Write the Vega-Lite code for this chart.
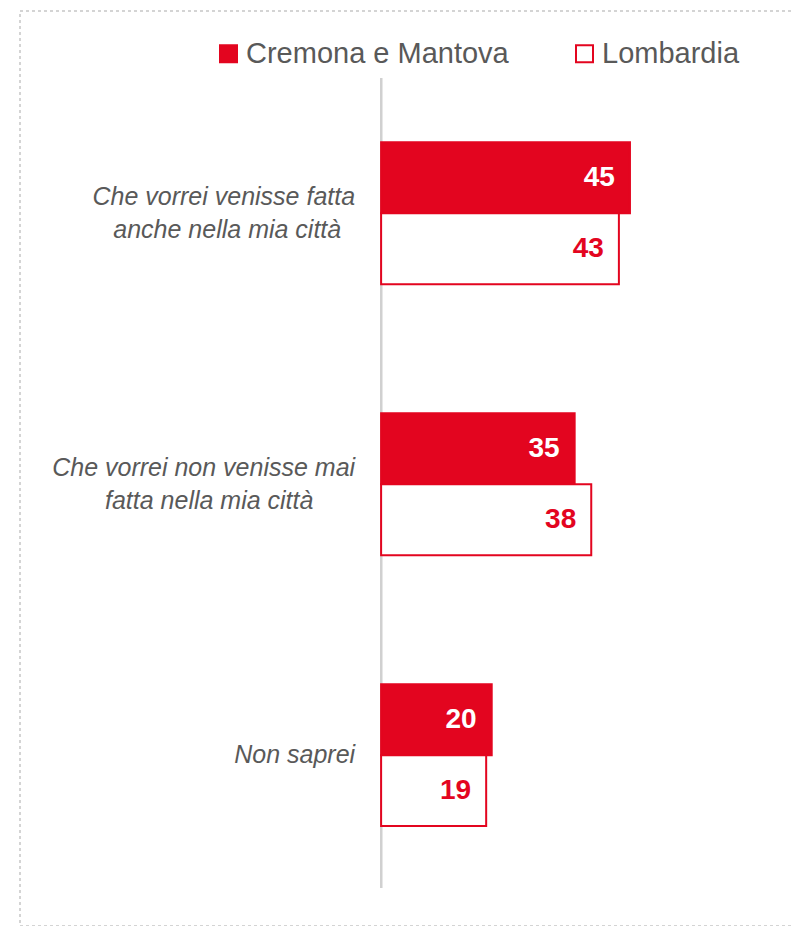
{
  "$schema": "https://vega.github.io/schema/vega-lite/v6.json",
  "autosize": {"type": "none"},
  "padding": {"left": 20, "top": 11, "right": 0, "bottom": 0},
  "width": 780,
  "height": 915,
  "config": {
    "view": {"stroke": "#d4d4d4", "strokeDash": [3, 3], "strokeWidth": 2},
    "font": "Liberation Sans"
  },
  "data": {
    "values": [
      {"cat": "Che vorrei venisse fatta\nanche nella mia città\u00a0\u00a0\u200b", "series": "Cremona e Mantova", "value": 45},
      {"cat": "Che vorrei venisse fatta\nanche nella mia città\u00a0\u00a0\u200b", "series": "Lombardia", "value": 43},
      {"cat": "Che vorrei non venisse mai\nfatta nella mia città\u00a0\u00a0\u00a0\u00a0\u00a0\u00a0\u200b", "series": "Cremona e Mantova", "value": 35},
      {"cat": "Che vorrei non venisse mai\nfatta nella mia città\u00a0\u00a0\u00a0\u00a0\u00a0\u00a0\u200b", "series": "Lombardia", "value": 38},
      {"cat": "Non saprei", "series": "Cremona e Mantova", "value": 20},
      {"cat": "Non saprei", "series": "Lombardia", "value": 19}
    ]
  },
  "resolve": {"scale": {"y": "independent"}},
  "layer": [
    {
      "mark": {"type": "rule", "color": "#d0d0d0", "strokeWidth": 2},
      "encoding": {
        "x": {"datum": 0, "type": "quantitative", "scale": {"domain": [-65.3, 75.75], "nice": false, "zero": false}, "axis": null},
        "y": {"datum": 0.0732, "type": "quantitative", "scale": {"domain": [0, 1], "reverse": true, "nice": false}, "axis": null},
        "y2": {"datum": 0.9585}
      }
    },
    {
      "encoding": {
        "y": {
          "field": "cat", "type": "nominal", "sort": null, "axis": null,
          "scale": {"paddingInner": 0.4765, "paddingOuter": 0.4267, "align": 0.568}
        }
      },
      "layer": [
        {
          "mark": {"type": "bar", "stroke": "#e3051f", "strokeWidth": 2},
          "encoding": {
            "x": {"field": "value", "type": "quantitative", "scale": {"domain": [-65.3, 75.75], "nice": false, "zero": false}, "axis": null},
            "yOffset": {"field": "series", "type": "nominal", "scale": {"paddingInner": 0, "paddingOuter": 0}},
            "fill": {
              "field": "series", "type": "nominal",
              "scale": {"domain": ["Cremona e Mantova", "Lombardia"], "range": ["#e3051f", "#ffffff"]},
              "legend": {
                "title": null, "orient": "none", "legendX": 194, "legendY": 28,
                "direction": "horizontal", "symbolType": "square", "symbolSize": 289,
                "symbolStrokeColor": "#e3051f", "symbolStrokeWidth": 2,
                "labelFontSize": 29, "labelColor": "#595959", "labelFont": "Liberation Sans",
                "labelOffset": 3, "columnPadding": 61, "labelLimit": 400
              }
            }
          }
        },
        {
          "mark": {"type": "text", "align": "right", "baseline": "middle", "dx": -15, "fontSize": 28, "fontWeight": "bold"},
          "encoding": {
            "x": {"field": "value", "type": "quantitative"},
            "yOffset": {"field": "series", "type": "nominal"},
            "text": {"field": "value", "type": "quantitative"},
            "color": {
              "condition": {"test": "datum.series === 'Cremona e Mantova'", "value": "#ffffff"},
              "value": "#e3051f"
            }
          }
        },
        {
          "transform": [{"filter": "datum.series === 'Cremona e Mantova' && datum.cat !== 'Non saprei'"}],
          "mark": {"type": "text", "align": "right", "baseline": "middle", "dx": -26, "dy": -16.5, "fontSize": 25, "fontStyle": "italic", "color": "#595959", "lineBreak": "\n", "lineHeight": 33},
          "encoding": {
            "x": {"datum": 0, "type": "quantitative"},
            "text": {"field": "cat", "type": "nominal"}
          }
        },
        {
          "transform": [{"filter": "datum.series === 'Cremona e Mantova' && datum.cat === 'Non saprei'"}],
          "mark": {"type": "text", "align": "right", "baseline": "middle", "dx": -26, "fontSize": 25, "fontStyle": "italic", "color": "#595959"},
          "encoding": {
            "x": {"datum": 0, "type": "quantitative"},
            "text": {"field": "cat", "type": "nominal"}
          }
        }
      ]
    }
  ]
}
